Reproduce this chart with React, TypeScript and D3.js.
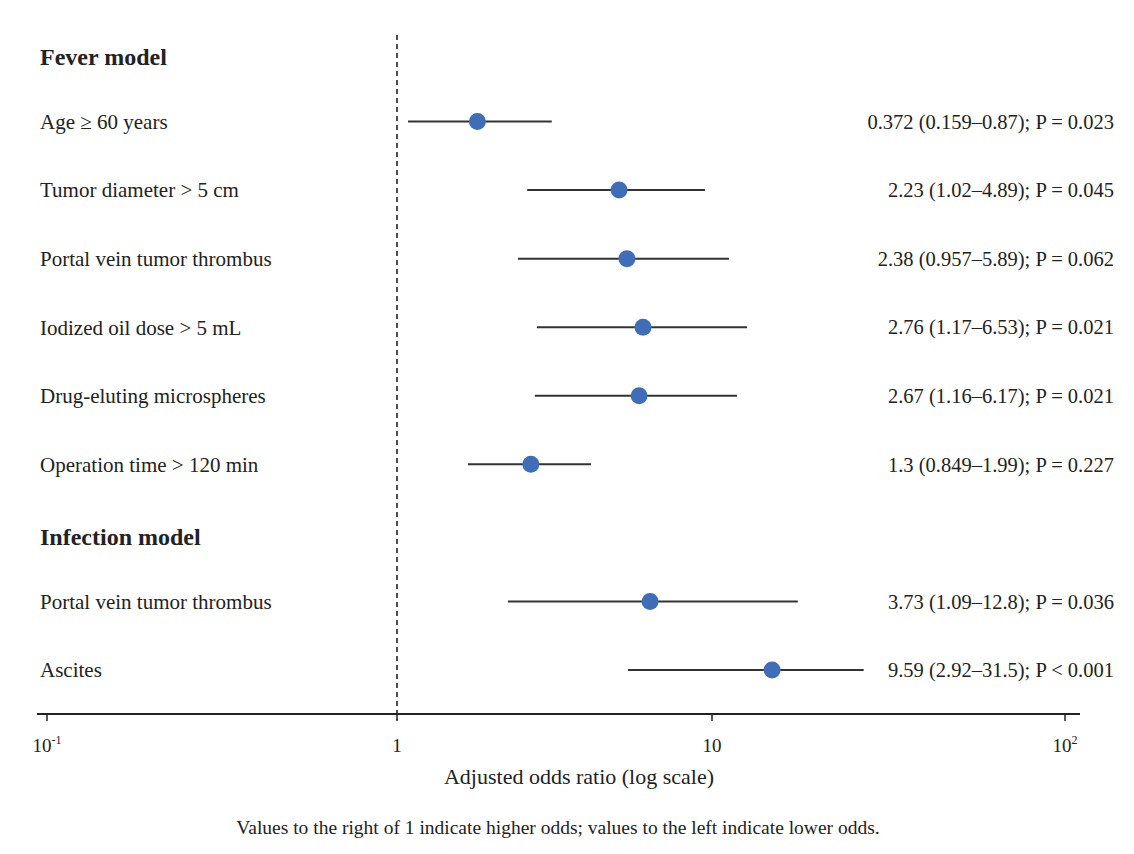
import React, { useEffect, useRef } from "react";
import * as d3 from "d3";

// rows in order, headers included
const rowLabels = [
  "Fever model",
  "Age ≥ 60 years",
  "Tumor diameter > 5 cm",
  "Portal vein tumor thrombus",
  "Iodized oil dose > 5 mL",
  "Drug-eluting microspheres",
  "Operation time > 120 min",
  "Infection model",
  "Portal vein tumor thrombus",
  "Ascites",
];
const headerRows = [0, 7];

// plotted positions (null for headers)
const pointEst = [null, 1.8, 5.07, 5.37, 6.04, 5.87, 2.66, null, 6.36, 14.8];
const lowerCI = [null, 1.084, 2.59, 2.42, 2.78, 2.74, 1.68, null, 2.25, 5.41];
const upperCI = [null, 3.1, 9.5, 11.17, 12.57, 11.77, 4.13, null, 17.5, 26.9];

const estTexts = [
  "",
  "0.372 (0.159–0.87); P = 0.023",
  "2.23 (1.02–4.89); P = 0.045",
  "2.38 (0.957–5.89); P = 0.062",
  "2.76 (1.17–6.53); P = 0.021",
  "2.67 (1.16–6.17); P = 0.021",
  "1.3 (0.849–1.99); P = 0.227",
  "",
  "3.73 (1.09–12.8); P = 0.036",
  "9.59 (2.92–31.5); P < 0.001",
];

const tickValues = [0.1, 1, 10, 100];
const tickBase = ["10", "1", "10", "10"];
const tickSup = ["-1", "", "", "2"];

const width = 1134;
const height = 854;
const font = "'Liberation Serif', 'Times New Roman', serif";
const ink = "#222";

export default function App() {
  const ref = useRef<SVGSVGElement>(null);

  useEffect(() => {
    const svg = d3.select(ref.current);
    svg.selectAll("*").remove();

    // the source axis is not evenly spaced per decade, so piecewise log
    const x = d3.scaleLog().domain([0.1, 1, 10, 100]).range([47, 397, 712, 1065]);
    const y = d3.scalePoint<number>().domain(d3.range(rowLabels.length)).range([53, 670]);
    const axisY = 714;

    svg.append("rect").attr("width", width).attr("height", height).attr("fill", "#fff");

    // reference line at 1
    svg.append("line")
      .attr("x1", x(1)).attr("x2", x(1))
      .attr("y1", 35).attr("y2", axisY + 6)
      .attr("stroke", ink).attr("stroke-width", 1.6)
      .attr("stroke-dasharray", "5,4");

    // row labels
    svg.append("g").selectAll("text")
      .data(rowLabels)
      .join("text")
      .attr("x", 40)
      .attr("y", (d, i) => y(i)! + (headerRows.includes(i) ? 4 : 0))
      .attr("dy", "0.35em")
      .attr("font-family", font)
      .attr("font-size", (d, i) => (headerRows.includes(i) ? 24 : 21))
      .attr("font-weight", (d, i) => (headerRows.includes(i) ? "bold" : "normal"))
      .attr("fill", ink)
      .text(d => d);

    const rows = d3.range(rowLabels.length).filter(i => pointEst[i] !== null);

    // CI whiskers
    svg.append("g").selectAll("line")
      .data(rows)
      .join("line")
      .attr("x1", i => x(lowerCI[i]!))
      .attr("x2", i => x(upperCI[i]!))
      .attr("y1", i => y(i)!)
      .attr("y2", i => y(i)!)
      .attr("stroke", "#333")
      .attr("stroke-width", 2);

    // point estimates
    svg.append("g").selectAll("circle")
      .data(rows)
      .join("circle")
      .attr("cx", i => x(pointEst[i]!))
      .attr("cy", i => y(i)!)
      .attr("r", 8.5)
      .attr("fill", "#3F6DB8");

    // estimate text on the right
    svg.append("g").selectAll("text")
      .data(rows)
      .join("text")
      .attr("x", 1114)
      .attr("y", i => y(i)!)
      .attr("dy", "0.35em")
      .attr("text-anchor", "end")
      .attr("font-family", font)
      .attr("font-size", 20.5)
      .attr("fill", ink)
      .text(i => estTexts[i]);

    // x axis
    const axis = svg.append("g");
    axis.append("line")
      .attr("x1", 37).attr("x2", 1080)
      .attr("y1", axisY).attr("y2", axisY)
      .attr("stroke", ink).attr("stroke-width", 2);
    axis.selectAll("line.tick")
      .data(tickValues)
      .join("line")
      .attr("class", "tick")
      .attr("x1", d => x(d)).attr("x2", d => x(d))
      .attr("y1", axisY).attr("y2", axisY + 7)
      .attr("stroke", ink).attr("stroke-width", 1.5);
    const labels = axis.selectAll("text.tick")
      .data(tickValues)
      .join("text")
      .attr("class", "tick")
      .attr("x", d => x(d))
      .attr("y", axisY + 38)
      .attr("text-anchor", "middle")
      .attr("font-family", font)
      .attr("font-size", 19)
      .attr("fill", ink);
    labels.append("tspan").text((d, i) => tickBase[i]);
    labels.append("tspan")
      .attr("font-size", 12)
      .attr("dy", (d, i) => (tickSup[i] ? -8 : 0))
      .text((d, i) => tickSup[i]);

    svg.append("text")
      .attr("x", 579).attr("y", 784)
      .attr("text-anchor", "middle")
      .attr("font-family", font)
      .attr("font-size", 22)
      .attr("fill", ink)
      .text("Adjusted odds ratio (log scale)");

    svg.append("text")
      .attr("x", 558).attr("y", 834)
      .attr("text-anchor", "middle")
      .attr("font-family", font)
      .attr("font-size", 19.5)
      .attr("fill", ink)
      .text("Values to the right of 1 indicate higher odds; values to the left indicate lower odds.");
  }, []);

  return (
    <div style={{ position: "absolute", left: 0, top: 0 }}>
      <svg ref={ref} width={width} height={height} />
    </div>
  );
}
